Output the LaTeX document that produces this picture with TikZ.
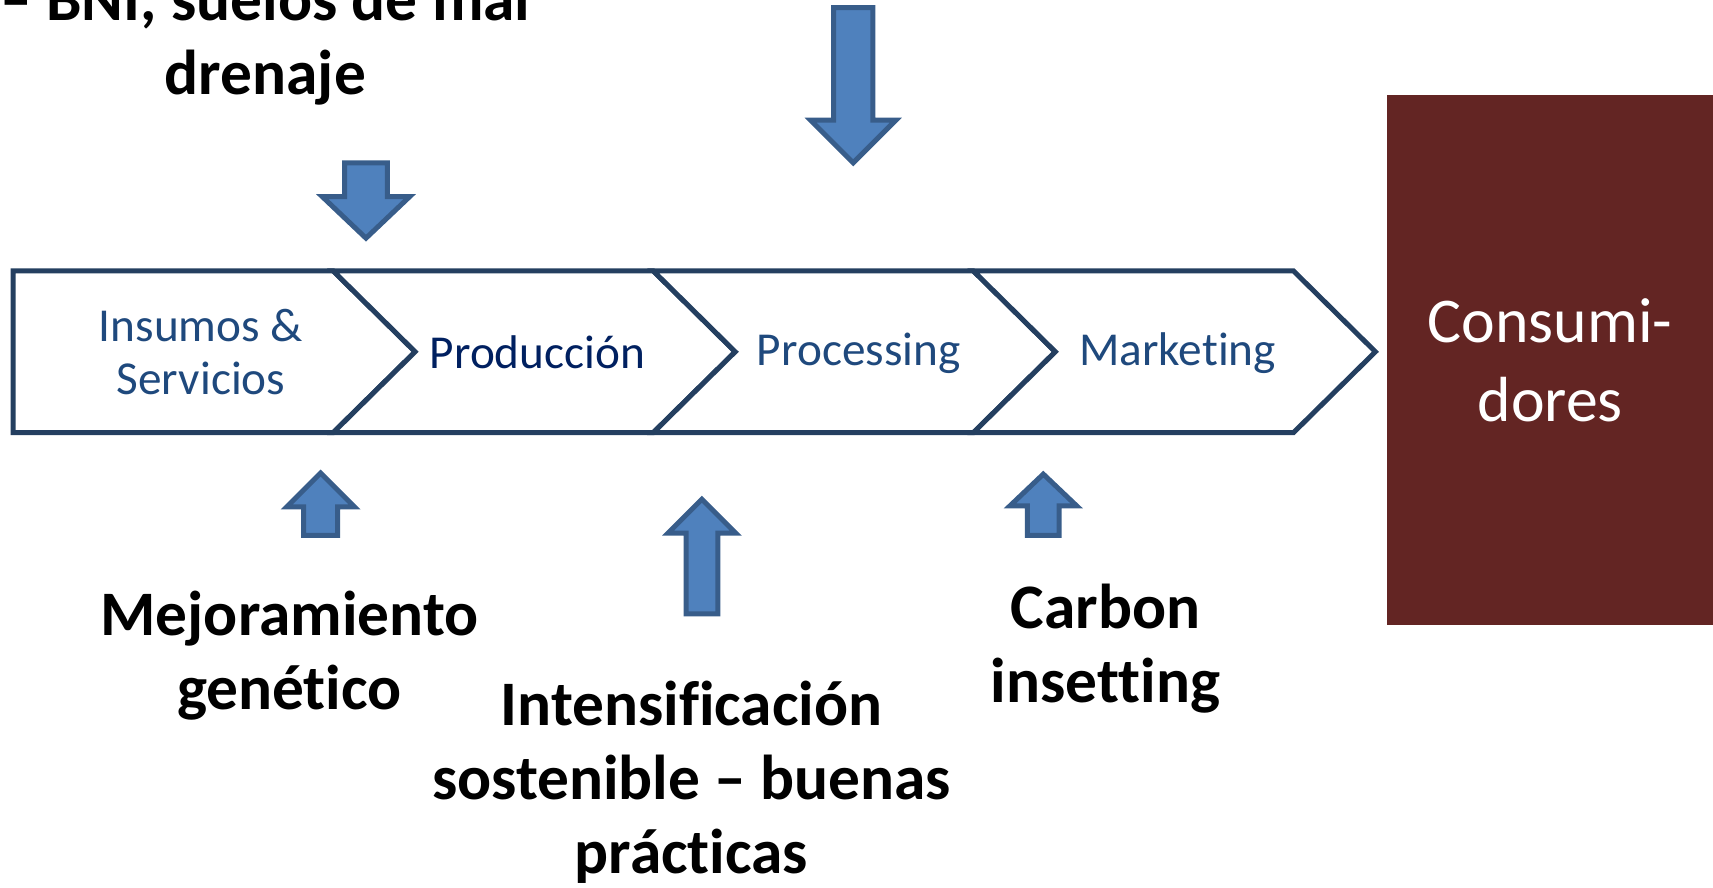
\documentclass[tikz,border=0pt]{standalone}
\usepackage{fontspec}
\setmainfont{Carlito}[Ligatures=NoCommon]
\usepackage{xcolor}
\usetikzlibrary{positioning}
\definecolor{chevline}{HTML}{243F60}
\definecolor{chevtext}{HTML}{1F497D}
\definecolor{navytext}{HTML}{002060}
\definecolor{arrfill}{HTML}{4F81BD}
\definecolor{arrline}{HTML}{385D8A}
\definecolor{consfill}{HTML}{632523}
\tikzset{
  chevron/.style={draw=chevline, line width=1.3pt, fill=white, line join=miter},
  blockarr/.style={draw=arrline, line width=1.3pt, fill=arrfill, line join=miter},
  steplabel/.style={text=chevtext, font=\fontsize{12.3}{13.7}\selectfont, align=center, inner sep=0pt},
  bigbold/.style={font=\fontsize{16.5}{19.3}\selectfont\bfseries, align=center, inner sep=0pt},
  consbox/.style={fill=consfill, text=white, minimum width=2.98cm, minimum height=4.85cm,
    inner sep=0pt, align=center, font=\fontsize{16.6}{20.5}\selectfont},
}
% block arrow: x, tail y, head base y, tip y, shaft half width, head half width
\newcommand{\blockarrow}[6]{%
  \draw[blockarr] (#1-#5,#2) -- (#1+#5,#2) -- (#1+#5,#3) -- (#1+#6,#3) -- (#1,#4)
    -- (#1-#6,#3) -- (#1-#5,#3) -- cycle;}

\begin{document}
\begin{tikzpicture}[x=0.01cm, y=-0.01cm]
  \useasboundingbox (0,0) rectangle (1568,812);
  \clip (0,0) rectangle (1568,812);
  % value chain
  \draw[chevron] (12,248) -- (305,248) -- (380,322) -- (305,396) -- (12,396) -- cycle;
  \foreach \l in {305,598,891}
    \draw[chevron] (\l,248) -- (\l+293,248) -- (\l+368,322) -- (\l+293,396) -- (\l,396) -- (\l+75,322) -- cycle;
  \node[steplabel] (insumos) at (184,322) {Insumos \&\\Servicios};
  \node[steplabel, text=navytext] (produccion) at (492,322) {Producción};
  \node[steplabel] (processing) at (786,323) {Processing};
  \node[steplabel] (marketing) at (1078,323) {Marketing};
  \node[consbox] (consumidores) at (1419,329.5) {Consumi-\\dores};
  % arrows
  \blockarrow{335}{149}{180}{218}{19.5}{40}
  \blockarrow{781}{7}{110}{149}{18}{39}
  \blockarrow{293.5}{490}{464}{433}{15.5}{31}
  \blockarrow{642.5}{562}{488}{457}{14.5}{31}
  \blockarrow{955}{490}{463}{434}{14.5}{30.5}
  % labels
  \node[bigbold] (bni) at (243,37) {– BNI, suelos de mal\\drenaje};
  \node[bigbold] (mejoramiento) at (265,600) {Mejoramiento\\genético};
  \node[bigbold] (intensificacion) at (633,716) {Intensificación\\sostenible – buenas\\prácticas};
  \node[bigbold] (carbon) at (1012,594) {Carbon\\insetting};
\end{tikzpicture}
\end{document}
